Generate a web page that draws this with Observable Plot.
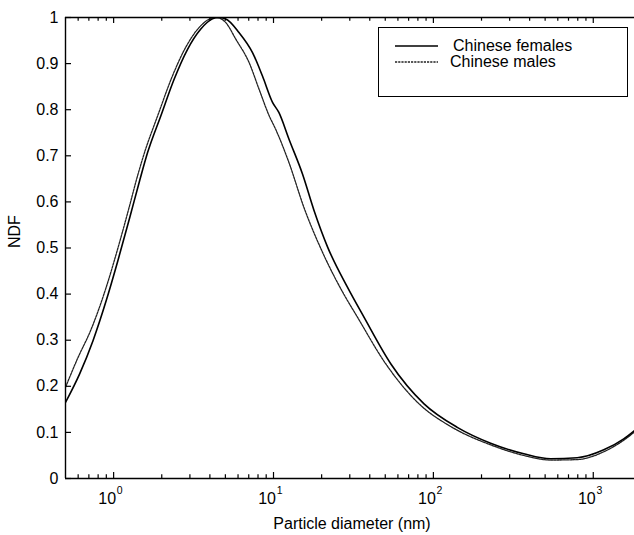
<!DOCTYPE html>
<html>
<head>
<meta charset="utf-8">
<script src="https://cdn.jsdelivr.net/npm/d3@7"></script>
<script src="https://cdn.jsdelivr.net/npm/@observablehq/plot@0.6"></script>
<style>
  html, body { margin: 0; padding: 0; background: #fff; }
  #wrap { position: relative; width: 634px; height: 535px; font-family: "Liberation Sans", Arial, Helvetica, sans-serif; }
  #legend { position: absolute; left: 378px; top: 27px; width: 248px; height: 68px; border: 1.4px solid #000; background: #fff; }
  #legend svg { position: absolute; left: 0; top: 0; }
  #legend .lab { position: absolute; font-size: 16px; line-height: 16px; color: #000; white-space: nowrap; }
</style>
</head>
<body>
<div id="wrap"></div>
<script>
// Data (particle diameter in nm, normalized distribution function)
const femalesDiameter = [0.5, 0.613, 0.743, 0.899, 1.064, 1.259, 1.454, 1.631, 1.975, 2.39, 2.90, 3.51, 4.15, 4.5, 5.03, 6.10, 7.39, 8.53, 9.86, 10.8, 12.5, 15.2, 17.9, 21.8, 29.0, 36.8, 54.1, 87.4, 141, 228, 368, 541, 794, 1164, 1551, 1811];
const femalesNDF      = [0.165, 0.227, 0.299, 0.386, 0.473, 0.565, 0.646, 0.707, 0.787, 0.866, 0.931, 0.975, 0.997, 1.0, 0.997, 0.967, 0.924, 0.873, 0.816, 0.794, 0.736, 0.660, 0.582, 0.502, 0.415, 0.350, 0.249, 0.162, 0.111, 0.0766, 0.0536, 0.0427, 0.0449, 0.0622, 0.086, 0.104];
const malesDiameter   = [0.5, 0.598, 0.72, 0.899, 1.064, 1.259, 1.384, 1.56, 1.9, 2.3, 2.8, 3.4, 4.0, 4.4, 5.03, 5.81, 7.04, 8.13, 9.39, 10.3, 12.5, 15.5, 20.3, 27.0, 33.5, 50.3, 81.3, 131, 228, 368, 541, 794, 1164, 1551, 1811];
const malesNDF        = [0.198, 0.262, 0.322, 0.415, 0.50, 0.592, 0.646, 0.707, 0.79, 0.868, 0.933, 0.977, 0.997, 1.0, 0.989, 0.953, 0.902, 0.844, 0.787, 0.758, 0.685, 0.588, 0.49, 0.405, 0.350, 0.249, 0.162, 0.111, 0.073, 0.050, 0.040, 0.041, 0.058, 0.083, 0.101];

const xMajorTicks = [1, 10, 100, 1000];
const xTickBase = "10";
const xTickExponents = ["0", "1", "2", "3"];
const xMinorTicks = [0.6, 0.7, 0.8, 0.9, 2, 3, 4, 5, 6, 7, 8, 9, 20, 30, 40, 50, 60, 70, 80, 90, 200, 300, 400, 500, 600, 700, 800, 900];
const yTicks = [0, 0.1, 0.2, 0.3, 0.4, 0.5, 0.6, 0.7, 0.8, 0.9, 1];
const yLabels = ["0", "0.1", "0.2", "0.3", "0.4", "0.5", "0.6", "0.7", "0.8", "0.9", "1"];
const xDomain = [0.5, 1811];
const seriesNames = ["Chinese females", "Chinese males"];
const xLabel = "Particle diameter (nm)";
const yLabel = "NDF";

const females = femalesDiameter.map((d, i) => ({d, v: femalesNDF[i]}));
const males = malesDiameter.map((d, i) => ({d, v: malesNDF[i]}));

const W = 634, H = 535, mL = 65, mR = 0, mT = 17, mB = 57;
const innerW = W - mL - mR, innerH = H - mT - mB;
const majorLen = 6, minorLen = 3.7;
const FONT = '"Liberation Sans", Arial, Helvetica, sans-serif';

const chart = Plot.plot({
  width: W, height: H,
  marginLeft: mL, marginRight: mR, marginTop: mT, marginBottom: mB,
  style: {fontFamily: FONT, fontSize: "16px", background: "#fff", color: "#000"},
  x: {type: "log", domain: xDomain, axis: null},
  y: {domain: [0, 1], axis: null},
  marks: [
    // curves
    Plot.line(males, {x: "d", y: "v", stroke: "#222", strokeWidth: 1.3, strokeDasharray: "2.2,1", curve: "monotone-x", clip: true}),
    Plot.line(females, {x: "d", y: "v", stroke: "#000", strokeWidth: 1.6, curve: "monotone-x", clip: true}),
    // axis lines
    Plot.ruleY([0, 1], {stroke: "#000", strokeWidth: 1.4}),
    Plot.ruleX([xDomain[0]], {stroke: "#000", strokeWidth: 1.4}),
    // inward ticks bottom
    Plot.ruleX(xMajorTicks, {x: d => d, insetTop: innerH - majorLen, stroke: "#000", strokeWidth: 1.2}),
    Plot.ruleX(xMinorTicks, {x: d => d, insetTop: innerH - minorLen, stroke: "#000", strokeWidth: 1.2}),
    // inward ticks top
    Plot.ruleX(xMajorTicks, {x: d => d, insetBottom: innerH - majorLen, stroke: "#000", strokeWidth: 1.2}),
    Plot.ruleX(xMinorTicks, {x: d => d, insetBottom: innerH - minorLen, stroke: "#000", strokeWidth: 1.2}),
    // inward ticks left
    Plot.ruleY(yTicks, {y: d => d, insetRight: innerW - majorLen, stroke: "#000", strokeWidth: 1.2}),
    // x tick labels: base and superscript exponent
    Plot.text(xMajorTicks, {x: d => d, frameAnchor: "bottom", dy: 25, dx: 2.5, textAnchor: "end", lineAnchor: "bottom", text: () => xTickBase, fontSize: 16, fill: "#000"}),
    Plot.text(xMajorTicks, {x: d => d, frameAnchor: "bottom", dy: 15, dx: 3.2, textAnchor: "start", lineAnchor: "bottom", text: (d, i) => xTickExponents[i], fontSize: 10.5, fill: "#000"}),
    // y tick labels
    Plot.text(yTicks, {y: d => d, frameAnchor: "left", dx: -7, textAnchor: "end", text: (d, i) => yLabels[i], fontSize: 16, fill: "#000"}),
    // axis titles
    Plot.text([xLabel], {frameAnchor: "bottom", dy: 50, dx: 2, lineAnchor: "bottom", text: d => d, fontSize: 16, fill: "#000"}),
    Plot.text([yLabel], {frameAnchor: "left", dx: -51, rotate: -90, text: d => d, fontSize: 16, fill: "#000"})
  ]
});

const wrap = document.getElementById("wrap");
chart.style.position = "absolute";
chart.style.left = "0px";
chart.style.top = "0px";
wrap.appendChild(chart);

// Legend (inside the frame, top right)
const legend = document.createElement("div");
legend.id = "legend";
legend.innerHTML = `
  <svg width="248" height="68">
    <line x1="16" x2="59" y1="18" y2="18" stroke="#000" stroke-width="1.6"></line>
    <line x1="16" x2="59" y1="34" y2="34" stroke="#222" stroke-width="1.3" stroke-dasharray="2.2,1"></line>
  </svg>
  <div class="lab" style="left:74px; top:10px;">${seriesNames[0]}</div>
  <div class="lab" style="left:71px; top:26px;">${seriesNames[1]}</div>`;
wrap.appendChild(legend);
</script>
</body>
</html>
